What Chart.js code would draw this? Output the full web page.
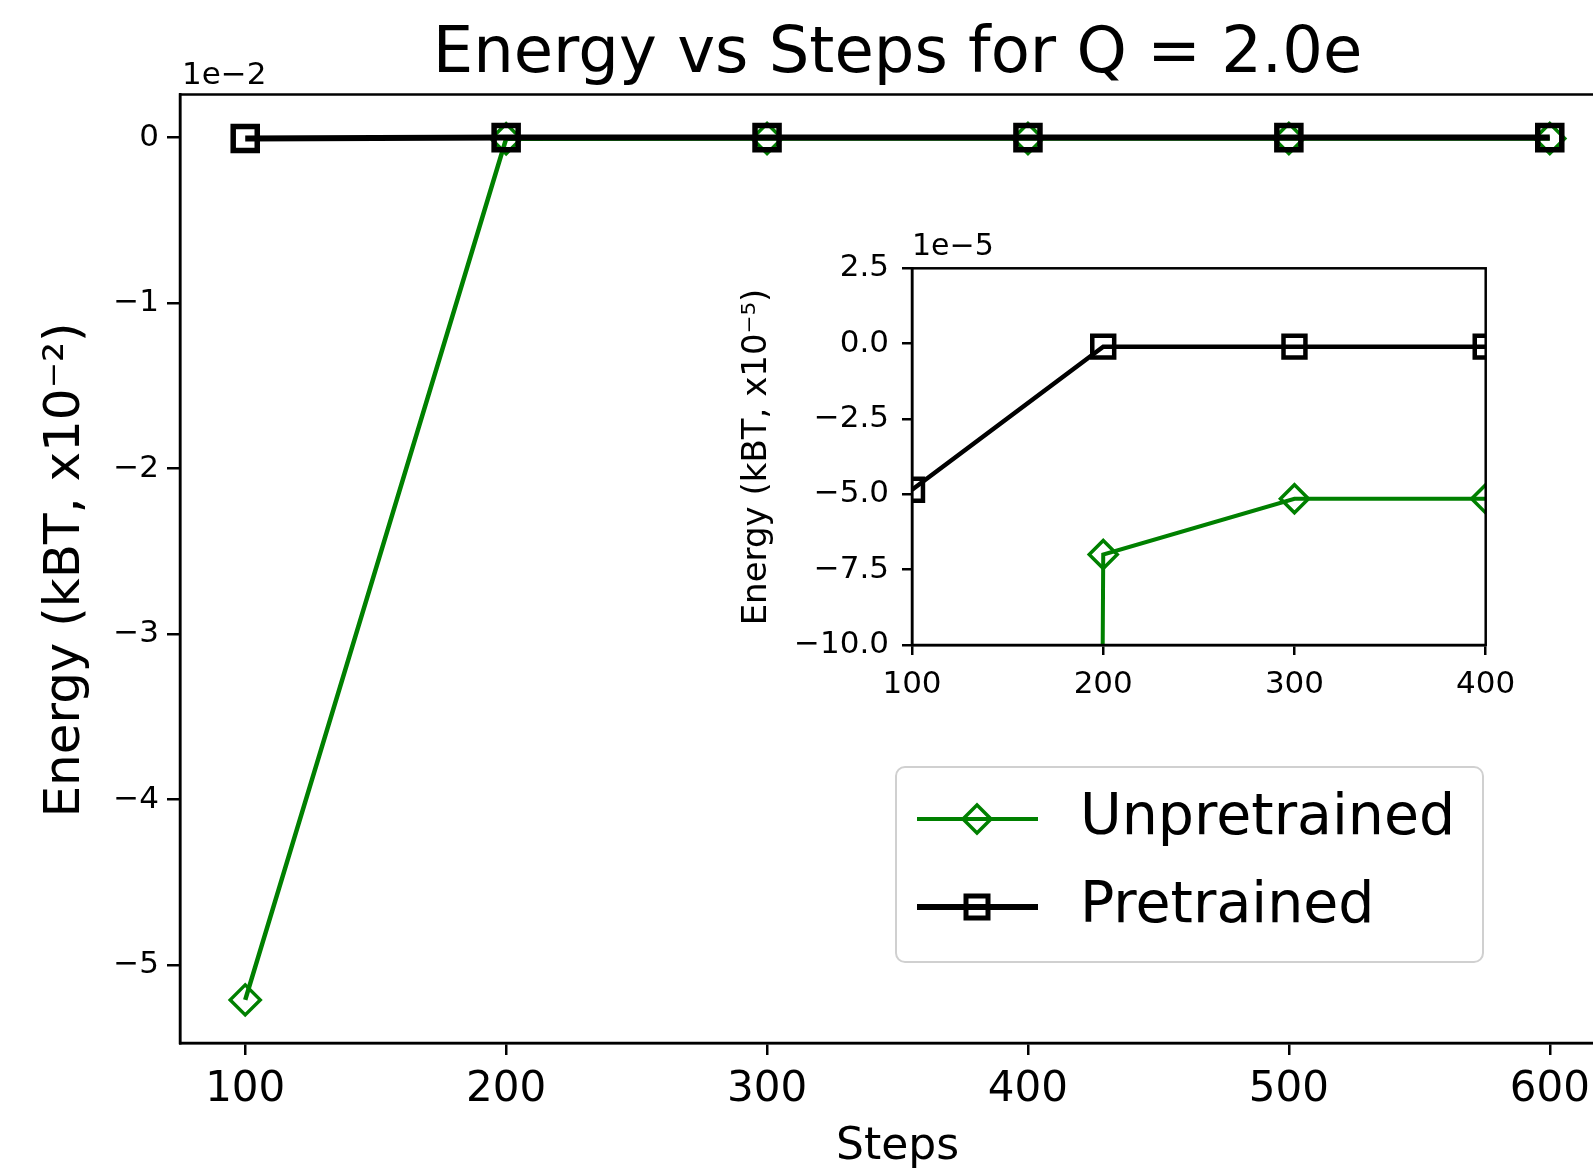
<!DOCTYPE html>
<html>
<head>
<meta charset="utf-8">
<title>Energy vs Steps</title>
<script src="https://cdn.jsdelivr.net/npm/chart.js@4.4.1/dist/chart.umd.min.js"></script>
<style>
    html, body { margin: 0; padding: 0; background: #fff; overflow: hidden; }
    #wrap { position: relative; width: 1593px; height: 1174px; overflow: hidden; }
    #mainChart { position: absolute; left: 0; top: 0; }
    #insetChart { position: absolute; left: 700px; top: 200px; }
</style>
</head>
<body>
<div id="wrap">
    <canvas id="mainChart" width="1660" height="1174"></canvas>
    <canvas id="insetChart" width="880" height="520"></canvas>
</div>
<script>
// valores em kBT
const steps = [100, 200, 300, 400, 500, 600];
const unpretrained = [-5.21e-2, -7.0e-5, -5.15e-5, -5.15e-5, -5.15e-5, -5.15e-5];
const pretrained = [-4.85e-5, -0.1e-5, -0.1e-5, -0.1e-5, -0.1e-5, -0.1e-5];

const mainXTicks = [100, 200, 300, 400, 500, 600];
const mainYTicks = [0, -1, -2, -3, -4, -5];
const insetXTicks = [100, 200, 300, 400];
const insetYTicks = [2.5, 0, -2.5, -5, -7.5, -10];

const FONT = 'DejaVu Sans';
const GREEN = '#008000';

const minus = (s) => s.replace('-', '\u2212');
const toPoints = (values, scale) => steps.map((x, i) => ({ x, y: values[i] * scale }));

// moldura completa (matplotlib desenha os quatro lados)
const framePlugin = {
    id: 'frame',
    afterDatasetsDraw(chart) {
        const { ctx, chartArea: a } = chart;
        ctx.save();
        ctx.strokeStyle = '#000';
        ctx.lineWidth = 2.5;
        ctx.strokeRect(a.left, a.top, a.right - a.left, a.bottom - a.top);
        ctx.restore();
    }
};

// textos extras: rótulo do eixo y e o "1e-N"
const extraText = {
    id: 'extraText',
    afterDraw(chart, args, opts) {
        const ctx = chart.ctx;
        ctx.save();
        ctx.fillStyle = '#000';
        ctx.font = opts.offsetSize + 'px ' + FONT;
        ctx.textAlign = 'left';
        ctx.textBaseline = 'alphabetic';
        ctx.fillText(opts.offset, opts.offsetX, opts.offsetY);

        ctx.translate(opts.labelX, opts.labelY);
        ctx.rotate(-Math.PI / 2);
        ctx.font = opts.labelSize + 'px ' + FONT;
        ctx.textAlign = 'center';
        ctx.textBaseline = 'middle';
        ctx.fillText(opts.label, 0, 0);
        ctx.restore();
    }
};

function drawDiamond(ctx, x, y, r) {
    ctx.beginPath();
    ctx.moveTo(x - r, y);
    ctx.lineTo(x, y - r);
    ctx.lineTo(x + r, y);
    ctx.lineTo(x, y + r);
    ctx.closePath();
    ctx.stroke();
}

function drawSquare(ctx, x, y, h) {
    ctx.strokeRect(x - h, y - h, 2 * h, 2 * h);
}

const legendPlugin = {
    id: 'boxLegend',
    afterDraw(chart) {
        const ctx = chart.ctx;
        ctx.save();
        ctx.fillStyle = 'rgba(255,255,255,0.8)';
        ctx.strokeStyle = '#d0d0d0';
        ctx.lineWidth = 2;
        ctx.beginPath();
        ctx.roundRect(896, 767, 587, 195, 9);
        ctx.fill();
        ctx.stroke();

        const rows = [
            { text: 'Unpretrained', color: GREEN, width: 4, y: 819 },
            { text: 'Pretrained', color: '#000', width: 6, y: 907 }
        ];
        rows.forEach((row, i) => {
            ctx.strokeStyle = row.color;
            ctx.lineWidth = row.width;
            ctx.beginPath();
            ctx.moveTo(917, row.y);
            ctx.lineTo(1038, row.y);
            ctx.stroke();
            if (i === 0) {
                ctx.lineWidth = 3.5;
                drawDiamond(ctx, 977, row.y, 14);
            } else {
                ctx.lineWidth = 5;
                drawSquare(ctx, 977, row.y, 11);
            }
            ctx.fillStyle = '#000';
            ctx.font = '57px ' + FONT;
            ctx.textAlign = 'left';
            ctx.textBaseline = 'middle';
            ctx.fillText(row.text, 1080, row.y);
        });
        ctx.restore();
    }
};

const axisLine = { display: true, color: '#000', width: 2.5 };

new Chart(document.getElementById('mainChart'), {
    type: 'line',
    data: {
        datasets: [
            {
                label: 'Pretrained',
                data: toPoints(pretrained, 1e2),
                borderColor: '#000',
                borderWidth: 6,
                pointStyle: 'rect',
                pointRadius: 17,
                pointBorderWidth: 5.5,
                pointBackgroundColor: 'rgba(0,0,0,0)',
                pointBorderColor: '#000',
                tension: 0,
                order: 0
            },
            {
                label: 'Unpretrained',
                data: toPoints(unpretrained, 1e2),
                borderColor: GREEN,
                borderWidth: 4.5,
                pointStyle: 'rectRot',
                pointRadius: 15,
                pointBorderWidth: 3.5,
                pointBackgroundColor: 'rgba(0,0,0,0)',
                pointBorderColor: GREEN,
                tension: 0,
                order: 1
            }
        ]
    },
    options: {
        responsive: false,
        animation: false,
        layout: { padding: { left: 0, top: 0, right: 45, bottom: 0 } },
        plugins: {
            legend: { display: false },
            tooltip: { enabled: false },
            title: {
                display: true,
                text: 'Energy vs Steps for Q = 2.0e',
                color: '#000',
                fullSize: false,
                font: { family: FONT, size: 64, weight: 'normal' },
                padding: { top: 17, bottom: 0.7 }
            },
            extraText: {
                offset: '1e\u22122', offsetSize: 31, offsetX: 182, offsetY: 84,
                label: 'Energy (kBT, x10\u207B\u00B2)', labelSize: 50, labelX: 66, labelY: 570
            }
        },
        scales: {
            x: {
                type: 'linear',
                min: 75,
                max: 625,
                afterFit: (axis) => { axis.height = 131; },
                afterBuildTicks: (axis) => { axis.ticks = mainXTicks.map(v => ({ value: v })); },
                border: axisLine,
                grid: { display: true, drawOnChartArea: false, drawTicks: true, tickLength: 12, color: '#000', lineWidth: 2.5 },
                ticks: { color: '#000', padding: 10, maxRotation: 0, font: { family: FONT, size: 42 } },
                title: { display: true, text: 'Steps', color: '#000', font: { family: FONT, size: 44 }, padding: { top: 0, bottom: 0 } }
            },
            y: {
                type: 'linear',
                min: -5.4705,
                max: 0.2604,
                afterFit: (axis) => { axis.width = 180; },
                afterBuildTicks: (axis) => { axis.ticks = mainYTicks.map(v => ({ value: v })); },
                border: axisLine,
                grid: { display: true, drawOnChartArea: false, drawTicks: true, tickLength: 13, color: '#000', lineWidth: 2.5 },
                ticks: { color: '#000', padding: 8, font: { family: FONT, size: 31 }, callback: (v) => minus(String(v)) }
            }
        }
    },
    plugins: [framePlugin, extraText, legendPlugin]
});

new Chart(document.getElementById('insetChart'), {
    type: 'line',
    data: {
        datasets: [
            {
                label: 'Pretrained',
                data: toPoints(pretrained, 1e5),
                borderColor: '#000',
                borderWidth: 4.5,
                pointStyle: 'rect',
                pointRadius: 15.5,
                pointBorderWidth: 4.5,
                pointBackgroundColor: 'rgba(0,0,0,0)',
                pointBorderColor: '#000',
                tension: 0,
                clip: 0,
                order: 0
            },
            {
                label: 'Unpretrained',
                data: toPoints(unpretrained, 1e5),
                borderColor: GREEN,
                borderWidth: 4,
                pointStyle: 'rectRot',
                pointRadius: 14,
                pointBorderWidth: 3.5,
                pointBackgroundColor: 'rgba(0,0,0,0)',
                pointBorderColor: GREEN,
                tension: 0,
                clip: 0,
                order: 1
            }
        ]
    },
    options: {
        responsive: false,
        animation: false,
        layout: { padding: { left: 0, top: 68.3, right: 94.3, bottom: 0 } },
        plugins: {
            legend: { display: false },
            tooltip: { enabled: false },
            extraText: {
                offset: '1e\u22125', offsetSize: 30, offsetX: 212, offsetY: 55,
                label: 'Energy (kBT, x10\u207B\u2075)', labelSize: 34, labelX: 57, labelY: 257
            }
        },
        scales: {
            x: {
                type: 'linear',
                min: 100,
                max: 400,
                afterFit: (axis) => { axis.height = 75; },
                afterBuildTicks: (axis) => { axis.ticks = insetXTicks.map(v => ({ value: v })); },
                border: axisLine,
                grid: { display: true, drawOnChartArea: false, drawTicks: true, tickLength: 10, color: '#000', lineWidth: 2.5 },
                ticks: { color: '#000', padding: 11, maxRotation: 0, font: { family: FONT, size: 31 } }
            },
            y: {
                type: 'linear',
                min: -10,
                max: 2.5,
                afterFit: (axis) => { axis.width = 212; },
                afterBuildTicks: (axis) => { axis.ticks = insetYTicks.map(v => ({ value: v })); },
                border: axisLine,
                grid: { display: true, drawOnChartArea: false, drawTicks: true, tickLength: 10, color: '#000', lineWidth: 2.5 },
                ticks: { color: '#000', padding: 13, font: { family: FONT, size: 31 }, callback: (v) => minus(v.toFixed(1)) }
            }
        }
    },
    plugins: [framePlugin, extraText]
});
</script>
</body>
</html>
